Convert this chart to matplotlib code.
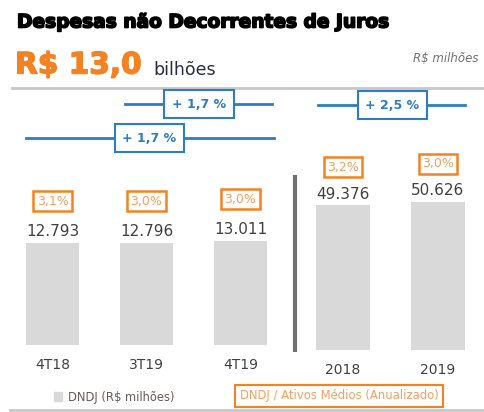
import matplotlib
matplotlib.use("Agg")
import matplotlib.pyplot as plt
import matplotlib.transforms as mtransforms
import matplotlib.patheffects as pe

W, H = 485, 412

quarters = ['4T18', '3T19', '4T19']
quarter_vals = [12793, 12796, 13011]
quarter_pct = ['3,1%', '3,0%', '3,0%']
years = ['2018', '2019']
year_vals = [49376, 50626]
year_pct = ['3,2%', '3,0%']
growth_labels = ['+ 1,7 %', '+ 1,7 %', '+ 2,5 %']

BAR = '#d9d9d9'
ORANGE = '#f58220'
ORANGE_T = '#f7a060'
BLUE = '#2e7cc4'
TXT = '#404040'

plt.rcParams['font.family'] = ['DejaVu Sans']

fig = plt.figure(figsize=(W / 100, H / 100), dpi=100)


def rect(x0, y0, x1, y1):
    return [x0 / W, 1 - y1 / H, (x1 - x0) / W, (y1 - y0) / H]


ov = fig.add_axes([0, 0, 1, 1])
ov.set_xlim(0, W)
ov.set_ylim(H, 0)
ov.axis('off')

# header
ov.text(17, 22, 'Despesas não Decorrentes de Juros', fontsize=13.4, fontweight='heavy',
        color='black', ha='left', va='center',
        path_effects=[pe.withStroke(linewidth=1.2, foreground='black')])
ov.text(15, 65, 'R$ 13,0', fontsize=21.3, fontweight='bold', color=ORANGE,
        ha='left', va='center',
        path_effects=[pe.withStroke(linewidth=1.0, foreground=ORANGE)])
ov.text(153, 70, 'bilhões', fontsize=12.5, color='#2b2b45', ha='left', va='center')
ov.text(413, 58, 'R$ milhões', fontsize=8.5, style='italic', color='#707070',
        ha='left', va='center')
ov.plot([12, W], [88, 88], color='#c8c8c8', lw=2)
ov.plot([10, W], [410, 410], color='#c8c8c8', lw=2)

# divider
ov.plot([295, 295], [175, 352], color='#707070', lw=3, solid_capstyle='butt')

# legend
ov.add_patch(plt.Rectangle((54, 392), 8, 9, color=BAR))
ov.text(68, 397, 'DNDJ (R$ milhões)', fontsize=8.3, color='#6b5858', ha='left', va='center')
ov.text(339, 396, 'DNDJ / Ativos Médios (Anualizado)', fontsize=8.4, color=ORANGE_T,
        ha='center', va='center',
        bbox=dict(boxstyle='square,pad=0.4', fc='white', ec=ORANGE, lw=1.5))


def setup(ax):
    ax.patch.set_visible(False)
    for s in ax.spines.values():
        s.set_visible(False)
    ax.set_yticks([])
    ax.tick_params(axis='x', length=0, pad=9.5, labelsize=10, labelcolor=TXT)


# quarter panel
axq = fig.add_axes(rect(5.5, 145, 287.5, 345))
axq.set_xlim(-0.5, 2.5)
axq.set_ylim(0, 25100)
axq.bar(range(len(quarters)), quarter_vals, width=0.564, color=BAR)
axq.set_xticks(range(len(quarters)), quarters)
setup(axq)
for i, (v, p) in enumerate(zip(quarter_vals, quarter_pct)):
    axq.annotate(f'{v:,}'.replace(',', '.'), (i, v), xytext=(0, 12),
                 textcoords='offset pixels', ha='center', va='center',
                 fontsize=11, color=TXT)
    axq.annotate(p, (i, v), xytext=(0, 42), textcoords='offset pixels',
                 ha='center', va='center', fontsize=9, color=ORANGE_T,
                 bbox=dict(boxstyle='square,pad=0.28', fc='white', ec=ORANGE, lw=1.8))

# year panel
axy = fig.add_axes(rect(295.5, 150, 485.5, 350))
axy.set_xlim(-0.5, 1.5)
axy.set_ylim(0, 68300)
axy.bar(range(len(years)), year_vals, width=0.57, color=BAR)
axy.set_xticks(range(len(years)), years)
setup(axy)
for i, (v, p) in enumerate(zip(year_vals, year_pct)):
    axy.annotate(f'{v:,}'.replace(',', '.'), (i, v), xytext=(0, 11),
                 textcoords='offset pixels', ha='center', va='center',
                 fontsize=11, color=TXT)
    axy.annotate(p, (i, v), xytext=(0, 38), textcoords='offset pixels',
                 ha='center', va='center', fontsize=9, color=ORANGE_T,
                 bbox=dict(boxstyle='square,pad=0.28', fc='white', ec=ORANGE, lw=1.8))

# growth annotations
tq = mtransforms.blended_transform_factory(axq.transData, ov.transData)
ty = mtransforms.blended_transform_factory(axy.transData, ov.transData)
growth = [
    (tq, 0.77, 2.34, 1.56, 104, growth_labels[0]),
    (tq, -0.28, 2.36, 1.03, 138, growth_labels[1]),
    (ty, -0.26, 1.28, 0.52, 105, growth_labels[2]),
]
for tr, xa, xb, xm, yy, lab in growth:
    ov.plot([xa, xb], [yy, yy], color=BLUE, lw=2, transform=tr, zorder=1)
    ov.text(xm, yy, lab, transform=tr, fontsize=9, fontweight='bold', color=BLUE,
            ha='center', va='center', zorder=2,
            bbox=dict(boxstyle='square,pad=0.62', fc='white', ec=BLUE, lw=1.5))

fig.savefig('out.png', dpi=100)
